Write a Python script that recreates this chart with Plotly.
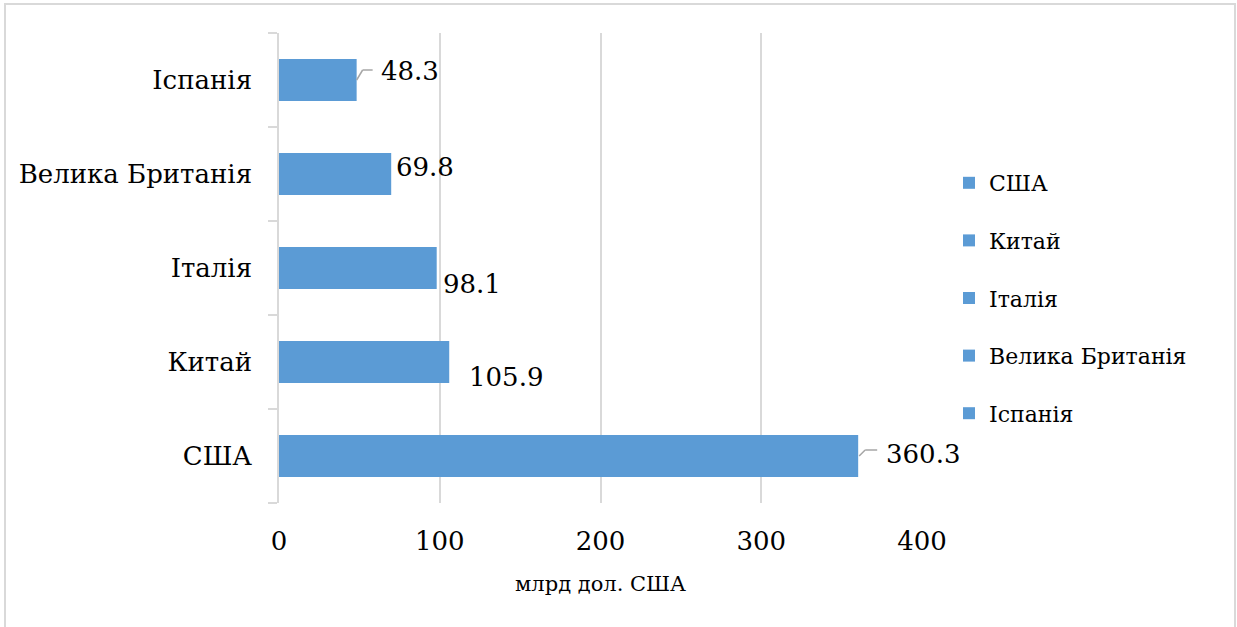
import plotly.graph_objects as go

# ---- data ----
countries = ["США", "Китай", "Італія", "Велика Британія", "Іспанія"]
values = [360.3, 105.9, 98.1, 69.8, 48.3]
x_ticks = [0, 100, 200, 300, 400]
x_title = "млрд дол. США"

# ---- style / layout ----
BAR_COLOR = "#5b9bd5"
GRID = "#d9d9d9"
FONT = "DejaVu Serif, serif"
W, H = 1237, 627
M_L, M_R, M_T, M_B = 279, 315, 33, 124
X_MAX = 400
PLOT_W = W - M_L - M_R
PLOT_H = H - M_T - M_B
PX_X = X_MAX / PLOT_W            # data units per pixel (x)
PX_Y = len(countries) / PLOT_H   # category units per pixel (y)

# label offsets (pixels from bar end / bar centre, y up positive)
label_offsets = [(26, 2), (18, -15), (4, -16), (3, 7), (22, 9)]
# leader lines (pixel polyline relative to bar end) or None
leaders = [[(1, 0), (7, 6), (19, 6)], None, None, None, [(0, 0), (6, 10), (16, 10)]]

fig = go.Figure()
for i, (c, v) in enumerate(zip(countries, values)):
    fig.add_trace(go.Bar(
        x=[v], y=[c], orientation="h", name=c, legendgroup=c,
        marker=dict(color=BAR_COLOR, line=dict(width=0)),
        hoverinfo="x+y",
    ))

annotations = []
shapes = []
for i, (c, v) in enumerate(zip(countries, values)):
    dx, dy = label_offsets[i]
    annotations.append(dict(
        x=v, y=c, xref="x", yref="y", text=f"{v:.1f}", showarrow=False,
        xanchor="left", yanchor="middle", xshift=dx, yshift=dy,
        font=dict(family=FONT, size=26, color="#000000"),
    ))
    pts = leaders[i]
    if pts:
        for (ax0, ay0), (ax1, ay1) in zip(pts[:-1], pts[1:]):
            shapes.append(dict(
                type="line", xref="x", yref="y",
                x0=v + ax0 * PX_X, y0=i + ay0 * PX_Y,
                x1=v + ax1 * PX_X, y1=i + ay1 * PX_Y,
                line=dict(color="#a6a6a6", width=1.5),
            ))

# outer chart border (x 5..1235, y 4..beyond bottom)
shapes.append(dict(
    type="rect", xref="paper", yref="paper",
    x0=(5 - M_L) / PLOT_W, x1=(1235 - M_L) / PLOT_W,
    y0=(H - M_B - 660) / PLOT_H, y1=(H - M_B - 4) / PLOT_H,
    line=dict(color=GRID, width=2), fillcolor="rgba(0,0,0,0)", layer="below",
))

fig.update_layout(
    width=W, height=H,
    margin=dict(l=M_L, r=M_R, t=M_T, b=M_B, autoexpand=False),
    paper_bgcolor="white", plot_bgcolor="white",
    barmode="relative", bargap=0.553,
    font=dict(family=FONT, color="#000000"),
    showlegend=True,
    legend=dict(
        x=(949 - M_L) / PLOT_W, xanchor="left",
        y=(H - M_B - 298) / PLOT_H, yanchor="middle",
        font=dict(family=FONT, size=22, color="#000000"),
        tracegroupgap=26, traceorder="grouped",
        bgcolor="rgba(0,0,0,0)",
    ),
    annotations=annotations,
    shapes=shapes,
    xaxis=dict(
        range=[0, X_MAX], tickvals=x_ticks, ticktext=[str(t) for t in x_ticks],
        showgrid=True, gridcolor=GRID, gridwidth=1.5, zeroline=False,
        showline=False, ticks="", ticklabelstandoff=20,
        tickfont=dict(family=FONT, size=26, color="#000000"),
        title=dict(text=x_title, standoff=21,
                   font=dict(family=FONT, size=21, color="#000000")),
        fixedrange=True,
    ),
    yaxis=dict(
        type="category", categoryorder="array", categoryarray=countries,
        showgrid=False, zeroline=False,
        showline=True, linecolor=GRID, linewidth=1.5,
        ticks="outside", tickson="boundaries", ticklen=9, tickcolor=GRID, tickwidth=1.5,
        ticklabelstandoff=20,
        tickfont=dict(family=FONT, size=26, color="#000000"),
        fixedrange=True,
    ),
)

fig.write_html("out.html", config={"displayModeBar": False},
               post_script="document.body.style.margin='0';")
